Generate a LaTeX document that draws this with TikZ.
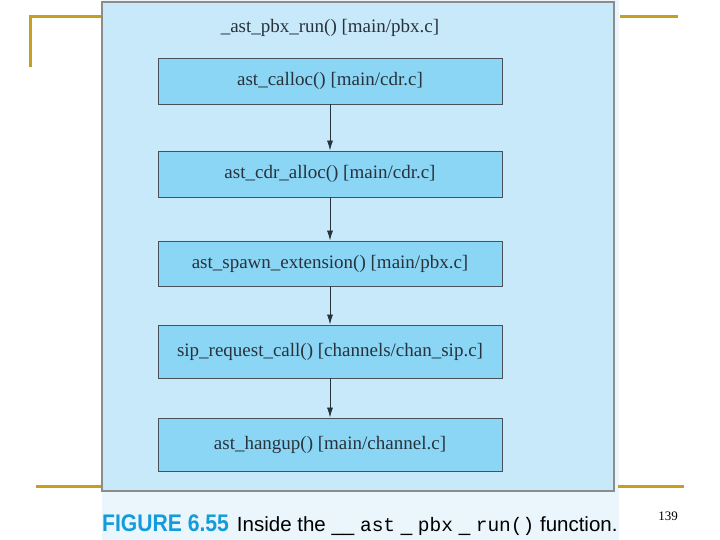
\documentclass[tikz,border=0pt]{standalone}
\usepackage{fontspec}
\setmainfont{Liberation Serif}
\setsansfont{Liberation Sans}
\setmonofont{Liberation Mono}
\newfontfamily\figfont[FakeStretch=0.88]{Liberation Sans}
\usetikzlibrary{arrows.meta,positioning}
\definecolor{slgold}{RGB}{196,160,32}
\definecolor{panelblue}{RGB}{200,233,250}
\definecolor{boxblue}{RGB}{140,214,245}
\definecolor{capblue}{RGB}{234,246,252}
\definecolor{figblue}{RGB}{20,155,220}
\definecolor{inkgray}{RGB}{40,50,60}
\begin{document}
\begin{tikzpicture}[x=1pt, y=-1pt,
  fn/.style={draw=inkgray!85, fill=boxblue, line width=0.9pt, minimum width=344pt, minimum height=46pt, inner sep=0pt, font=\fontsize{19}{21}\selectfont, text=inkgray},
  flow/.style={-{Latex[length=10pt,width=6pt]}, line width=0.8pt, inkgray}]
\useasboundingbox (0,0) rectangle (720,540);
% slide strip behind the figure
\fill[capblue] (102,0) rectangle (619,540);
% slide rules
\draw[slgold, line width=3pt] (30,67) -- (30,17) -- (102,17);
\draw[slgold, line width=3pt] (620,17) -- (678,17);
\draw[slgold, line width=3pt] (36,486) -- (102,486);
\draw[slgold, line width=3pt] (618,486) -- (684,486);
% outer panel
\node[draw=gray!90, fill=panelblue, line width=1.2pt, minimum width=512pt, minimum height=489pt, inner sep=0pt] (panel) at (358,246.5) {};
\node[font=\fontsize{19}{21}\selectfont, text=inkgray] (title) at (330,28) {\_ast\_pbx\_run() [main/pbx.c]};
% call chain
\node[fn] (calloc) at (330,81) {ast\_calloc() [main/cdr.c]};
\node[fn] (cdralloc) at (330,174) {ast\_cdr\_alloc() [main/cdr.c]};
\node[fn, minimum height=45pt] (spawn) at (330,263.5) {ast\_spawn\_extension() [main/pbx.c]};
\node[fn, minimum height=53pt] (sipcall) at (330,351.5) {sip\_request\_call() [channels/chan\_sip.c]};
\node[fn, minimum height=53pt] (hangup) at (330,444.5) {ast\_hangup() [main/channel.c]};
% arrows
\draw[flow] (calloc) -- (cdralloc);
\draw[flow] (cdralloc) -- (spawn);
\draw[flow] (spawn) -- (sipcall);
\draw[flow] (sipcall) -- (hangup);
% caption
\node[anchor=west, inner sep=0pt] (caption) at (102,525) {{\figfont\bfseries\fontsize{24}{26}\selectfont\color{figblue}FIGURE 6.55}\hspace{8pt}{\sffamily\fontsize{20.5}{23}\selectfont Inside the \_\_ {\ttfamily\fontsize{19.5}{23}\selectfont ast} \_ {\ttfamily\fontsize{19.5}{23}\selectfont pbx} \_ {\ttfamily\fontsize{19.5}{23}\selectfont run()} function.}};
% page number
\node[font=\fontsize{13}{15}\selectfont] (pagenum) at (668,516) {139};
\end{tikzpicture}
\end{document}
